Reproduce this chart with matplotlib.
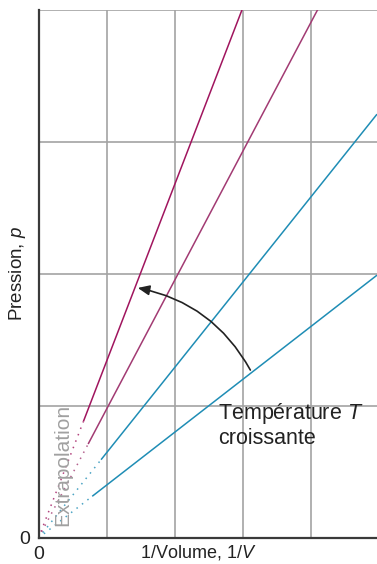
import numpy as np
import matplotlib
matplotlib.use("Agg")
import matplotlib.pyplot as plt

plt.rcParams["font.family"] = ["Liberation Sans", "DejaVu Sans"]
plt.rcParams["mathtext.fontset"] = "custom"
plt.rcParams["mathtext.it"] = "Liberation Sans:italic"
plt.rcParams["mathtext.rm"] = "Liberation Sans"

# pentes p = k * (1/V), de la plus chaude a la plus froide
pentes = [1.337, 0.975, 0.645, 0.40]
debut_mesure = [0.66, 0.73, 0.92, 0.79]  # 1/V ou commencent les mesures
couleurs = ["#a0155e", "#a23b73", "#1f8db5", "#1f8db5"]

fig = plt.figure(figsize=(3.77, 5.64), dpi=100)
W, H = 377, 564
ax = fig.add_axes([38.5 / W, 1 - 538 / H, (377 - 38.5) / W, (538 - 10) / H])
ax.set_xlim(0, (377 - 38.5) / 68)
ax.set_ylim(0, 4)

for v in [1, 2, 3, 4]:
    ax.axvline(v, color="#a3a3a3", lw=1.2, zorder=0)
    ax.axhline(v, color="#a3a3a3", lw=1.2, zorder=0)

xmax = (377 - 38.5) / 68
for k, x0, c in zip(pentes, debut_mesure, couleurs):
    xs = np.array([x0, xmax])
    ax.plot(xs, k * xs, color=c, lw=1.1, solid_capstyle="butt")
    xd = np.array([0, x0])
    ax.plot(xd, k * xd, color=c, lw=1.1, ls=(0, (1, 3.5)), alpha=0.8)

for s in ["top", "right"]:
    ax.spines[s].set_visible(False)
for s in ["left", "bottom"]:
    ax.spines[s].set_color("#3a3a3a")
    ax.spines[s].set_linewidth(1.6)

ax.set_xticks([0])
ax.set_yticks([0])
ax.tick_params(length=0, labelsize=14, colors="#222222", pad=6)
ax.set_xticklabels(["0"])
ax.set_yticklabels(["0"])

# fleche courbe
xa, xb = 3.135, 1.42
ax.annotate("", xy=(xb, pentes[0] * xb), xytext=(xa, pentes[3] * xa),
            arrowprops=dict(arrowstyle="-|>,head_length=0.7,head_width=0.3",
                            color="#222222", lw=1.2,
                            connectionstyle="arc3,rad=0.24"))

ax.text((218 - 38.5) / 68, (538 - 401) / 132, "Température $T$\ncroissante",
        fontsize=15.5, color="#222222", ha="left", va="top", linespacing=1.15)
ax.text(0.36, 0.55, "Extrapolation", rotation=90, fontsize=15, color="#a0a0a0",
        ha="center", va="center")

fig.text(198 / W, 1 - 553 / H, "1/Volume, 1/$V$", fontsize=13, color="#222222",
         ha="center", va="center")
fig.text(18 / W, 1 - 273 / H, "Pression, $p$", fontsize=13.5, color="#222222",
         ha="center", va="center", rotation=90)

fig.savefig("out.png", dpi=100)
